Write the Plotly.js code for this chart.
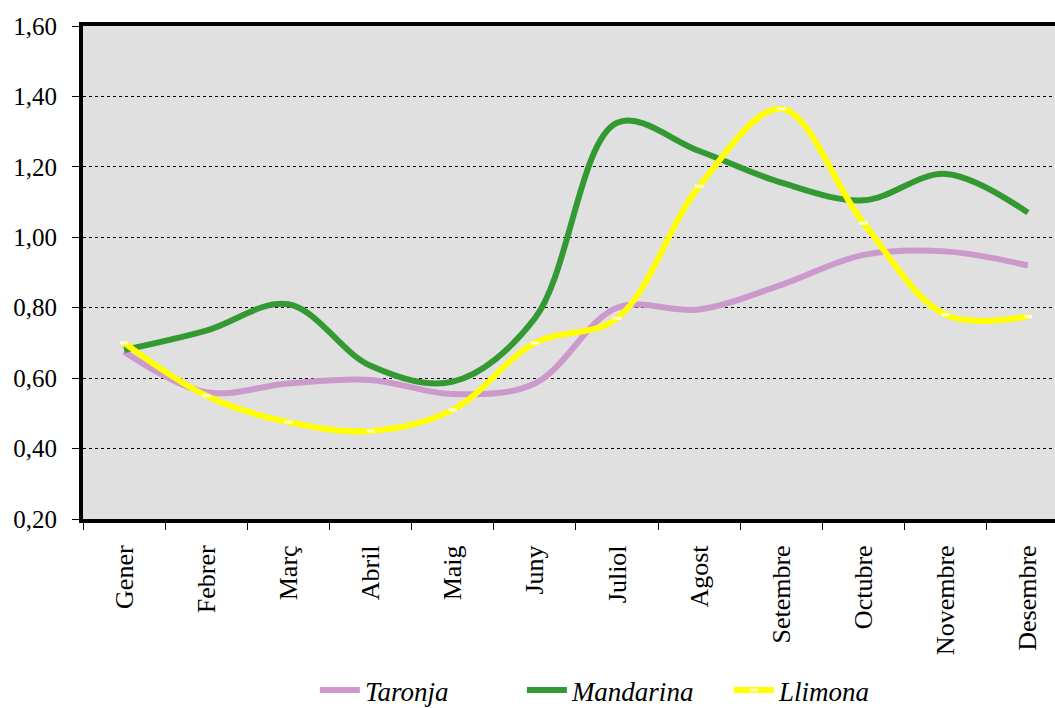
<!DOCTYPE html>
<html>
<head>
<meta charset="utf-8">
<script src="https://cdn.plot.ly/plotly-3.0.1.min.js"></script>
<style>
html,body{margin:0;padding:0;overflow:hidden;background:#fff;}
#chart{width:1055px;height:708px;}
</style>
</head>
<body>
<div id="chart"></div>
<script>
const months = ["Gener","Febrer","Març","Abril","Maig","Juny","Juliol","Agost","Setembre","Octubre","Novembre","Desembre"];
const taronja = [0.675,0.56,0.585,0.595,0.555,0.585,0.80,0.795,0.865,0.95,0.96,0.92];
const mandarina = [0.68,0.735,0.81,0.635,0.59,0.77,1.325,1.245,1.155,1.105,1.18,1.07];
const llimona = [0.70,0.55,0.475,0.45,0.51,0.70,0.77,1.145,1.365,1.04,0.78,0.775];
const yTicks = [0.2,0.4,0.6,0.8,1.0,1.2,1.4,1.6];

const serif = "Liberation Serif";

const traces = [
  {x: months, y: taronja, name: "Taronja", type: "scatter", mode: "lines",
   line: {color: "#cc99cc", width: 6, shape: "spline", smoothing: 1}},
  {x: months, y: mandarina, name: "Mandarina", type: "scatter", mode: "lines",
   line: {color: "#339933", width: 6, shape: "spline", smoothing: 1}},
  {x: months, y: llimona, name: "Llimona", type: "scatter", mode: "lines+markers",
   line: {color: "#ffff00", width: 6, shape: "spline", smoothing: 1},
   marker: {symbol: "line-ew", size: 6, line: {color: "#ffffcc", width: 3}, color: "#ffffcc"}}
];

const layout = {
  width: 1055, height: 708,
  margin: {l: 83, r: 0, t: 26, b: 189, autoexpand: false},
  paper_bgcolor: "#ffffff",
  plot_bgcolor: "#e0e0e0",
  separators: ",.",
  font: {family: serif, color: "#000", size: 25},
  showlegend: true,
  legend: {orientation: "h", x: 0.558, xanchor: "center", y: -0.348, yanchor: "middle",
           font: {family: serif, size: 27, style: "italic"}, itemwidth: 40,
           entrywidth: 152, traceorder: "normal"},
  xaxis: {
    type: "category", range: [-0.5, 11.33], automargin: false,
    showline: true, linecolor: "#000", linewidth: 4, mirror: true,
    ticks: "outside", ticklen: 7, tickcolor: "#000", tickwidth: 1,
    tickson: "boundaries", tickangle: -90, ticklabelstandoff: 12,
    showgrid: false, zeroline: false,
    tickfont: {family: serif, size: 26}
  },
  yaxis: {
    range: [0.2, 1.6], tickvals: yTicks, tickformat: ".2f", automargin: false,
    showline: true, linecolor: "#000", linewidth: 4,
    ticks: "outside", ticklen: 7, tickcolor: "#000", tickwidth: 1, ticklabelstandoff: 10,
    showgrid: true, gridcolor: "#000", gridwidth: 1, griddash: "dot",
    zeroline: false,
    tickfont: {family: serif, size: 25}
  }
};

Plotly.newPlot("chart", traces, layout, {displayModeBar: false, staticPlot: true});
</script>
</body>
</html>
